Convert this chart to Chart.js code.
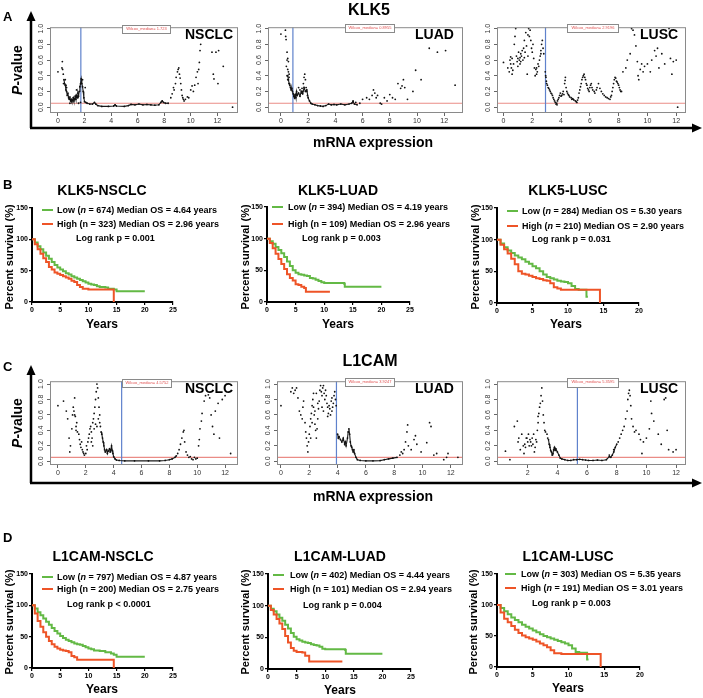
<!DOCTYPE html>
<html><head><meta charset="utf-8">
<script src="https://cdn.jsdelivr.net/npm/chart.js@4.4.1/dist/chart.umd.min.js"></script>
<style>
body{margin:0;width:703px;height:698px;position:relative;background:#fff;overflow:hidden;font-family:'Liberation Sans',Arial,sans-serif;}
.t{position:absolute;white-space:nowrap;font-weight:bold;color:#000;line-height:1;z-index:3;}
canvas{position:absolute;z-index:1;}
.leg{position:absolute;height:2px;z-index:3;}
.wbox{position:absolute;border:1px solid #8a8a8a;background:#fff;z-index:3;color:#e05050;font-size:4px;line-height:6px;text-align:center;white-space:nowrap;overflow:hidden;}
svg{position:absolute;left:0;top:0;z-index:2;}
</style></head><body>
<svg width="703" height="698">
<line x1="31" y1="128" x2="31" y2="19" stroke="#000" stroke-width="2.5"/>
<polygon points="31,11 26.5,21 35.5,21" fill="#000"/>
<line x1="30" y1="128" x2="694" y2="128" stroke="#000" stroke-width="2.5"/>
<polygon points="702,128 692,123.5 692,132.5" fill="#000"/>
<line x1="31" y1="483" x2="31" y2="373" stroke="#000" stroke-width="2.5"/>
<polygon points="31,365 26.5,375 35.5,375" fill="#000"/>
<line x1="30" y1="483" x2="694" y2="483" stroke="#000" stroke-width="2.5"/>
<polygon points="702,483 692,478.5 692,487.5" fill="#000"/>
</svg>
<script>
// ================= DATA =================
const P_CUT = 0.05;
const PVAL_TICKS = [0, 0.2, 0.4, 0.6, 0.8, 1.0];
const EXPR_TICKS = [0, 2, 4, 6, 8, 10, 12];
const EXPR_TICKS_C3 = [2, 4, 6, 8, 10, 12];
const KM_Y_TICKS = [0, 50, 100, 150];
const KM_X_TICKS_25 = [0, 5, 10, 15, 20, 25];
const KM_X_TICKS_20 = [0, 5, 10, 15, 20];

// --- KLK5 cutoff scans (mRNA expression, P-value) ---
const klk5NsclcCut = 1.723;
const klk5NsclcTrace = [[0.45,0.35],[0.5,0.3],[0.55,0.28],[0.6,0.22],[0.65,0.2],[0.7,0.15],[0.75,0.18],[0.8,0.12],[0.85,0.1],[0.9,0.13],[0.95,0.08],[1.0,0.1],[1.05,0.07],[1.1,0.09],[1.15,0.12],[1.2,0.08],[1.25,0.1],[1.3,0.14],[1.35,0.1],[1.4,0.15],[1.45,0.12],[1.5,0.18],[1.55,0.14],[1.6,0.2],[1.65,0.26],[1.7,0.3],[1.75,0.36],[1.8,0.3],[1.85,0.26],[1.9,0.2],[1.95,0.12],[2.0,0.07],[2.1,0.06],[2.2,0.05],[2.4,0.04],[2.6,0.04],[2.75,0.06],[2.85,0.04],[3.0,0.02],[3.3,0.01],[3.8,0.01],[4.2,0.015],[4.3,0.03],[4.4,0.015],[5.0,0.01],[5.3,0.02],[5.5,0.035],[5.8,0.03],[6.1,0.04],[6.4,0.03],[6.7,0.035],[7.0,0.03],[7.3,0.025],[7.6,0.03],[7.75,0.06],[7.85,0.08],[7.95,0.06],[8.1,0.05],[8.3,0.05]];
const klk5NsclcPts = [[0,0.45],[0.3,0.5],[0.33,0.58],[0.35,0.48],[0.4,0.42],[0.42,0.3],[0.55,0.35],[0.6,0.28],[0.65,0.25],[0.9,0.05],[1.4,0.22],[1.55,0.05],[1.7,0.06],[1.85,0.35],[2.05,0.25],[8.5,0.12],[8.6,0.17],[8.7,0.25],[8.75,0.22],[8.85,0.3],[8.9,0.38],[9.0,0.45],[9.05,0.48],[9.1,0.5],[9.15,0.42],[9.2,0.37],[9.25,0.3],[9.3,0.22],[9.35,0.15],[9.4,0.12],[9.45,0.1],[9.5,0.08],[9.6,0.1],[9.75,0.13],[9.85,0.12],[10.0,0.22],[10.1,0.27],[10.2,0.2],[10.3,0.28],[10.4,0.38],[10.5,0.45],[10.55,0.3],[10.6,0.48],[10.65,0.57],[10.7,0.72],[10.75,0.8],[10.8,0.98],[11.6,0.7],[11.7,0.42],[11.75,0.36],[11.9,0.7],[12.05,0.3],[12.1,0.72],[12.45,0.52],[13.15,0.0]];

const klk5LuadCut = 0.88;
const klk5LuadTrace = [[0.5,0.4],[0.55,0.35],[0.6,0.3],[0.65,0.28],[0.7,0.25],[0.75,0.22],[0.8,0.24],[0.85,0.2],[0.9,0.17],[0.95,0.14],[1.0,0.12],[1.05,0.16],[1.1,0.12],[1.15,0.2],[1.2,0.15],[1.3,0.18],[1.4,0.14],[1.5,0.2],[1.6,0.17],[1.7,0.25],[1.8,0.2],[1.9,0.22],[2.0,0.12],[2.1,0.08],[2.2,0.05],[2.3,0.04],[2.5,0.03],[2.7,0.02],[2.9,0.015],[3.1,0.01],[3.3,0.02],[3.5,0.04],[3.7,0.03],[3.9,0.035],[4.1,0.03],[4.4,0.04],[4.7,0.03],[5.0,0.04],[5.2,0.05],[5.3,0.07],[5.4,0.04],[5.6,0.03]];
const klk5LuadPts = [[0.0,0.93],[0.33,0.98],[0.35,0.9],[0.38,0.86],[0.45,0.7],[0.5,0.62],[0.45,0.6],[0.55,0.58],[0.4,0.52],[0.5,0.48],[0.55,0.45],[0.6,0.42],[0.45,0.4],[0.6,0.38],[0.5,0.35],[0.62,0.3],[1.3,0.25],[1.4,0.22],[1.5,0.18],[1.55,0.24],[1.6,0.2],[1.65,0.3],[1.7,0.38],[1.75,0.42],[1.8,0.35],[1.85,0.25],[1.9,0.2],[1.95,0.15],[5.3,0.08],[5.5,0.06],[5.8,0.05],[6.0,0.1],[6.3,0.12],[6.5,0.1],[6.7,0.15],[6.8,0.22],[6.9,0.18],[7.0,0.12],[7.1,0.15],[7.3,0.05],[7.4,0.04],[7.6,0.12],[7.8,0.08],[8.0,0.16],[8.2,0.12],[8.4,0.1],[8.6,0.3],[8.8,0.24],[8.9,0.27],[9.0,0.35],[9.1,0.25],[9.3,0.1],[9.7,0.2],[9.9,0.47],[10.3,0.35],[10.9,0.75],[11.5,0.7],[12.1,0.72],[12.8,0.28]];

const klk5LuscCut = 2.92;
const klk5LuscTrace = [];
const klk5LuscPts = [[0,0.57],[0.3,0.5],[0.4,0.45],[0.45,0.6],[0.5,0.55],[0.55,0.5],[0.6,0.62],[0.65,0.47],[0.7,0.55],[0.75,0.8],[0.8,0.9],[0.85,1.0],[0.9,0.65],[0.95,0.58],[1.0,0.62],[1.05,0.7],[1.1,0.6],[1.15,0.55],[1.2,0.68],[1.25,0.65],[1.3,0.72],[1.35,0.6],[1.4,0.75],[1.45,0.85],[1.5,0.7],[1.55,0.95],[1.6,0.78],[1.65,0.42],[1.7,0.65],[1.75,1.0],[1.8,0.9],[1.85,0.98],[1.9,0.85],[1.95,0.75],[2.0,0.7],[2.05,0.8],[2.1,0.62],[2.15,0.5],[2.2,0.4],[2.25,0.48],[2.3,0.5],[2.35,0.45],[2.4,0.55],[2.45,0.52],[2.5,0.6],[2.55,0.65],[2.6,0.72],[2.65,0.8],[2.7,0.85],[2.75,0.75],[2.8,0.68],[1.2,0.58],[1.0,0.52],[0.6,0.42],[1.45,0.63],[1.15,0.63],[0.5,0.64],[1.7,0.92],[2.3,0.42],[2.6,0.68],
 [2.9,0.45],[2.93,0.4],[2.95,0.38],[2.98,0.33],[3.0,0.3],[3.05,0.28],[3.1,0.25],[3.15,0.24],[3.2,0.22],[3.25,0.2],[3.3,0.18],[3.35,0.17],[3.4,0.15],[3.45,0.12],[3.5,0.1],[3.55,0.08],[3.6,0.06],[3.65,0.04],[3.7,0.05],[3.72,0.03],[3.75,0.08],[3.8,0.1],[3.85,0.12],[3.9,0.15],[3.95,0.18],[4.0,0.14],[4.05,0.15],[4.1,0.17],[4.15,0.2],[4.2,0.16],[4.25,0.3],[4.28,0.34],[4.3,0.38],[4.35,0.25],[4.4,0.2],[4.45,0.18],[4.5,0.16],[4.55,0.15],[4.6,0.13],[4.7,0.12],[4.75,0.1],[4.8,0.11],[4.85,0.1],[4.9,0.09],[5.0,0.08],[5.05,0.07],[5.1,0.06],[5.15,0.09],[5.2,0.12],[5.25,0.18],[5.3,0.22],[5.35,0.26],[5.4,0.3],[5.45,0.35],[5.5,0.38],[5.55,0.4],[5.6,0.42],[5.65,0.38],[5.7,0.35],[5.75,0.3],[5.8,0.28],[5.85,0.24],[5.9,0.22],[5.95,0.2],[6.0,0.25],[6.05,0.28],[6.1,0.3],[6.15,0.25],[6.2,0.22],[6.3,0.2],[6.35,0.18],[6.45,0.22],[6.5,0.25],[6.6,0.3],[6.7,0.24],[6.8,0.2],[6.9,0.17],[7.0,0.15],[7.1,0.13],[7.2,0.12],[7.3,0.11],[7.4,0.1],[7.45,0.13],[7.5,0.15],[7.55,0.2],[7.6,0.25],[7.65,0.3],[7.7,0.35],[7.75,0.38],[7.8,0.37],[7.85,0.33],[7.9,0.32],[7.95,0.3],[8.0,0.28],[8.05,0.25],[8.1,0.22],[8.15,0.2],[8.2,0.2],
 [8.3,0.45],[8.5,0.5],[8.6,0.6],[8.8,0.68],[8.9,1.0],[9.0,0.98],[9.1,0.92],[9.2,0.78],[9.3,0.58],[9.35,0.4],[9.4,0.35],[9.5,0.48],[9.6,0.55],[9.7,0.45],[9.8,0.52],[10.0,0.55],[10.2,0.45],[10.3,0.6],[10.5,0.72],[10.6,0.65],[10.7,0.75],[10.8,0.5],[11.0,0.68],[11.2,0.55],[11.5,1.0],[11.6,0.62],[11.7,0.42],[11.8,0.58],[12.0,0.6],[12.1,0.0]];

// --- L1CAM cutoff scans ---
const l1camNsclcCut = 4.575;
const l1camNsclcTrace = [[3.1,0.38],[3.15,0.35],[3.2,0.3],[3.25,0.25],[3.3,0.2],[3.35,0.15],[3.4,0.12],[3.5,0.15],[3.55,0.1],[3.6,0.13],[3.7,0.16],[3.75,0.12],[3.8,0.15],[3.85,0.2],[3.9,0.14],[3.95,0.1],[4.0,0.06],[4.1,0.03],[4.2,0.015],[4.4,0.01],[4.8,0.005],[5.5,0.005],[6.5,0.005],[7.3,0.005],[7.7,0.01],[8.0,0.02],[8.2,0.03],[8.4,0.05],[8.5,0.07]];
const l1camNsclcPts = [[0,0.72],[0.4,0.78],[0.6,0.65],[0.7,0.55],[0.8,0.3],[0.85,0.12],[0.9,0.2],[1.0,0.42],[1.05,0.6],[1.1,0.7],[1.15,0.65],[1.2,0.82],[1.25,0.58],[1.3,0.45],[1.35,0.5],[1.4,0.38],[1.5,0.35],[1.55,0.28],[1.6,0.22],[1.65,0.18],[1.7,0.25],[1.75,0.15],[1.8,0.12],[1.85,0.1],[1.9,0.08],[2.0,0.1],[2.05,0.2],[2.1,0.15],[2.15,0.25],[2.2,0.3],[2.25,0.35],[2.3,0.42],[2.35,0.45],[2.4,0.38],[2.45,0.3],[2.5,0.5],[2.55,0.55],[2.6,0.62],[2.65,0.7],[2.7,0.8],[2.75,0.9],[2.8,1.0],[2.85,0.95],[2.9,0.82],[2.95,0.7],[3.0,0.6],[2.6,0.42],[2.7,0.48],[2.8,0.45],[2.9,0.55],[3.0,0.5],[3.05,0.45],[2.5,0.2],[2.4,0.25],[1.2,0.6],[1.3,0.4],[8.6,0.1],[8.7,0.15],[8.8,0.22],[8.9,0.3],[9.0,0.38],[9.05,0.4],[9.1,0.25],[9.2,0.12],[9.3,0.08],[9.4,0.05],[9.5,0.06],[9.6,0.03],[9.7,0.02],[9.8,0.05],[9.9,0.03],[10.0,0.04],[10.1,0.2],[10.15,0.28],[10.2,0.42],[10.3,0.52],[10.35,0.62],[10.5,0.78],[10.6,0.85],[10.8,0.86],[10.9,0.82],[11.0,0.6],[11.1,0.45],[11.2,0.35],[11.3,0.65],[11.5,0.75],[11.6,0.3],[11.8,0.8],[12.0,0.85],[12.4,0.1]];

const l1camLuadCut = 3.92;
const l1camLuadTrace = [[4.0,0.35],[4.05,0.3],[4.1,0.32],[4.2,0.28],[4.3,0.25],[4.4,0.3],[4.5,0.22],[4.55,0.25],[4.6,0.2],[4.7,0.3],[4.75,0.38],[4.8,0.42],[4.85,0.35],[4.9,0.25],[4.95,0.2],[5.0,0.18],[5.05,0.15],[5.1,0.12],[5.15,0.15],[5.2,0.1],[5.3,0.05],[5.4,0.02],[5.6,0.01],[6.0,0.005],[6.5,0.005],[7.0,0.008],[7.3,0.02],[7.6,0.03],[7.9,0.04],[8.2,0.05]];
const l1camLuadPts = [[0,0.72],[0.7,0.9],[0.8,0.95],[0.9,0.88],[1.0,0.92],[1.1,0.95],[1.2,0.82],[1.3,0.65],[1.4,0.6],[1.5,0.55],[1.55,0.7],[1.6,0.78],[1.7,0.5],[1.75,0.38],[1.8,0.3],[1.85,0.2],[1.9,0.12],[1.95,0.25],[2.0,0.35],[2.05,0.45],[2.1,0.55],[2.15,0.62],[2.2,0.72],[2.25,0.8],[2.3,0.88],[2.35,0.6],[2.4,0.48],[2.45,0.4],[2.5,0.3],[2.55,0.42],[2.6,0.55],[2.65,0.68],[2.7,0.78],[2.75,0.92],[2.8,0.98],[2.85,0.9],[2.9,0.85],[2.95,0.95],[3.0,0.98],[3.05,0.88],[3.1,0.8],[3.15,0.92],[3.2,0.85],[3.25,0.75],[3.3,0.7],[3.35,0.62],[3.4,0.72],[3.45,0.68],[3.5,0.6],[3.55,0.78],[3.6,0.82],[3.65,0.7],[3.7,0.75],[3.75,0.85],[3.8,0.9],[3.85,0.8],[3.9,0.72],[2.2,0.5],[2.4,0.65],[2.6,0.75],[3.0,0.65],[3.3,0.58],[2.5,0.88],[2.1,0.3],[2.3,0.7],[2.9,0.7],[3.6,0.65],[8.4,0.08],[8.5,0.12],[8.6,0.1],[8.7,0.15],[8.8,0.25],[8.9,0.38],[8.95,0.47],[9.0,0.2],[9.2,0.15],[9.4,0.28],[9.5,0.33],[9.6,0.22],[9.9,0.12],[10.3,0.24],[10.5,0.5],[10.6,0.45],[10.8,0.08],[11.0,0.1],[11.5,0.02],[11.7,0.05],[11.8,0.1],[12.5,0.05]];

const l1camLuscCut = 5.35;
const l1camLuscTrace = [[3.4,0.28],[3.45,0.22],[3.5,0.18],[3.55,0.14],[3.6,0.12],[3.65,0.08],[3.7,0.1],[3.75,0.15],[3.8,0.18],[3.85,0.14],[3.9,0.16],[4.0,0.12],[4.1,0.08],[4.2,0.04],[4.3,0.03],[4.5,0.02],[4.7,0.01],[4.9,0.01],[5.1,0.02],[5.3,0.02],[5.5,0.025],[5.7,0.02],[5.9,0.015],[6.1,0.01],[6.4,0.01],[6.7,0.015],[7.0,0.01],[7.3,0.02],[7.5,0.06],[7.6,0.05],[7.7,0.08],[7.8,0.12],[7.9,0.18],[8.0,0.22]];
const l1camLuscPts = [[0.5,0.13],[0.8,0.02],[1.1,0.45],[1.3,0.52],[1.35,0.25],[1.4,0.3],[1.5,0.15],[1.6,0.35],[1.7,0.2],[1.75,0.1],[1.8,0.22],[1.85,0.18],[1.9,0.3],[2.0,0.25],[2.05,0.35],[2.1,0.2],[2.15,0.28],[2.2,0.25],[2.3,0.3],[2.35,0.22],[2.4,0.35],[2.5,0.18],[2.55,0.28],[2.6,0.25],[2.65,0.4],[2.7,0.5],[2.75,0.62],[2.8,0.7],[2.85,0.75],[2.9,0.85],[2.95,0.95],[3.0,0.78],[3.05,0.6],[3.1,0.5],[3.15,0.4],[3.2,0.38],[3.3,0.35],[3.35,0.3],[2.45,0.12],[1.95,0.3],[2.25,0.2],[2.7,0.58],[7.5,0.08],[7.8,0.15],[8.1,0.25],[8.2,0.3],[8.3,0.35],[8.4,0.4],[8.5,0.45],[8.6,0.55],[8.7,0.65],[8.75,0.8],[8.8,0.88],[8.85,0.92],[8.9,0.85],[8.95,0.72],[9.0,0.55],[9.1,0.45],[9.2,0.38],[9.3,0.4],[9.5,0.35],[9.6,0.28],[9.7,0.1],[9.8,0.25],[10.0,0.3],[10.2,0.42],[10.3,0.78],[10.35,0.62],[10.5,0.52],[10.8,0.35],[11.0,0.22],[11.2,0.8],[11.3,0.82],[11.4,0.4],[11.5,0.15],[11.8,0.12],[12.0,0.15]];

// --- Kaplan-Meier curves [years, percent survival] ---
const klk5NsclcLow = [[0,100],[0.5,95],[1,89],[1.5,84],[2,79],[2.5,74],[3,69],[3.5,64],[4,59],[4.5,55],[5,52],[5.5,49],[6,46],[6.5,44],[7,41],[7.5,39],[8,37],[8.5,35],[9,33],[9.5,31],[10,29],[10.5,28],[11,27],[11.5,25],[12,24],[12.5,24],[13,23],[13.5,21],[14,21],[14.5,20],[15,17],[17,17],[20,17]];
const klk5NsclcHigh = [[0,100],[0.5,92],[1,84],[1.5,77],[2,70],[2.5,64],[3,56],[3.5,52],[4,47],[4.5,45],[5,43],[5.5,41],[6,39],[6.5,37],[7,34],[7.5,32],[8,27],[8.5,24],[9,21],[10,20],[12,20],[14.5,20],[14.5,0]];
const klk5LuadLow = [[0,100],[0.5,96],[1,92],[1.5,87],[2,82],[2.5,77],[3,71],[3.5,64],[4,57],[4.5,50],[5,46],[5.5,44],[6,43],[6.5,42],[7,41],[7.5,38],[8,37],[8.5,35],[9,33],[9.5,31],[10,30],[12,30],[13.5,29],[13.6,24],[17,24],[20,24]];
const klk5LuadHigh = [[0,100],[0.5,93],[1,85],[1.5,76],[2,68],[2.5,60],[3,52],[3.5,44],[4,38],[4.5,34],[5,28],[5.5,27],[6,24],[6.5,22],[6.8,16],[9,16],[11,16]];
const klk5LuscLow = [[0,100],[0.5,94],[1,88],[1.5,83],[2,79],[2.5,75],[3,72],[3.5,69],[4,65],[4.5,62],[5,58],[5.5,55],[6,50],[6.5,45],[7,41],[7.5,39],[8,37],[8.5,35],[9,34],[9.5,33],[10,31],[10.5,27],[11,22],[11.5,21],[12.5,21],[12.6,10],[12.8,10]];
const klk5LuscHigh = [[0,100],[0.5,92],[1,85],[1.5,78],[2,70],[2.5,61],[3,50],[3.5,46],[4,45],[4.5,43],[5,41],[5.5,39],[6,38],[6.5,36],[7,35],[7.5,31],[8,25],[8.5,23],[9,21],[12,21],[14.5,21],[14.5,0]];
const l1camNsclcLow = [[0,100],[0.5,95],[1,89],[1.5,84],[2,79],[2.5,74],[3,69],[3.5,64],[4,59],[4.5,55],[5,51],[5.5,48],[6,45],[6.5,43],[7,41],[7.5,39],[8,38],[8.5,37],[9,35],[9.5,33],[10,31],[10.5,30],[11,28],[12,27],[13,25],[14,23],[14.5,21],[15,18],[17,18],[20,18]];
const l1camNsclcHigh = [[0,100],[0.5,87],[1,75],[1.5,66],[2,57],[2.5,50],[3,43],[3.5,38],[4,34],[4.5,31],[5,29],[5.5,28],[6,27],[6.5,25],[7,19],[7.5,17],[8,13],[10,13],[14.5,13],[14.5,0]];
const l1camLuadLow = [[0,100],[0.5,95],[1,91],[1.5,86],[2,81],[2.5,76],[3,70],[3.5,64],[4,57],[4.5,51],[5,47],[5.5,45],[6,43],[6.5,42],[7,41],[7.5,39],[8,38],[8.5,37],[9,35],[9.5,32],[10,31],[12,31],[13.5,30],[13.6,24],[18,24],[20,24]];
const l1camLuadHigh = [[0,100],[0.5,93],[1,86],[1.5,79],[2,72],[2.5,63],[3,52],[3.5,42],[4,33],[4.5,29],[5,27],[6,26],[6.5,21],[7,21],[7.2,12],[10,12],[13,12]];
const l1camLuscLow = [[0,100],[0.5,95],[1,90],[1.5,85],[2,80],[2.5,76],[3,72],[3.5,68],[4,65],[4.5,62],[5,59],[5.5,56],[6,53],[6.5,50],[7,48],[7.5,46],[8,44],[8.5,42],[9,40],[9.5,38],[10,35],[10.5,30],[11,24],[11.5,23],[12.5,23],[12.6,12],[12.8,12]];
const l1camLuscHigh = [[0,100],[0.5,88],[1,78],[1.5,72],[2,66],[2.5,60],[3,55],[3.5,51],[4,48],[4.5,46],[5,44],[5.5,41],[6,38],[6.5,35],[7,32],[7.5,27],[8,22],[9,21],[12,21],[14.5,21],[14.5,0]];

// --- legend / label texts ---
const kmTitles = ['KLK5-NSCLC','KLK5-LUAD','KLK5-LUSC','L1CAM-NSCLC','L1CAM-LUAD','L1CAM-LUSC'];
const kmLowText = ['Low (<i>n</i> = 674) Median OS = 4.64 years','Low (<i>n</i> = 394) Median OS = 4.19 years','Low (<i>n</i> = 284) Median OS = 5.30 years','Low (<i>n</i> = 797) Median OS = 4.87 years','Low (<i>n</i> = 402) Median OS = 4.44 years','Low (<i>n</i> = 303) Median OS = 5.35 years'];
const kmHighText = ['High (n = 323) Median OS = 2.96 years','High (n = 109) Median OS = 2.96 years','High (<i>n</i> = 210) Median OS = 2.90 years','High (n = 200) Median OS = 2.75 years','High (n = 101) Median OS = 2.94 years','High (<i>n</i> = 191) Median OS = 3.01 years'];
const kmLogRank = ['Log rank p = 0.001','Log rank p = 0.003','Log rank p = 0.031','Log rank p &lt; 0.0001','Log rank p = 0.004','Log rank p = 0.003'];
const scanLabels = ['NSCLC','LUAD','LUSC','NSCLC','LUAD','LUSC'];
const wilcoxText = ['Wilcox_median= 1.723','Wilcox_median= 0.8955','Wilcox_median= 2.9196','Wilcox_median= 4.5752','Wilcox_median= 3.9247','Wilcox_median= 5.3595'];

// ================= DRAWING =================
const GREEN = '#63b945', RED = '#ee5427';
const FONT = "'Liberation Sans', Arial, sans-serif";
Chart.defaults.font.family = FONT;

function txt(html, x, y, size, o = {}) {
  const d = document.createElement('div');
  d.className = 't'; d.innerHTML = html;
  d.style.fontSize = size + 'px'; d.style.left = x + 'px'; d.style.top = y + 'px';
  let tr = o.align === 'left' ? 'translate(0,-50%)' : 'translate(-50%,-50%)';
  if (o.rot) tr += ' rotate(-90deg)';
  d.style.transform = tr;
  if (o.weight) d.style.fontWeight = o.weight;
  document.body.appendChild(d);
}
function makeCanvas(L, T, R, B, padL, padT, padR, padB) {
  const cv = document.createElement('canvas');
  const w = Math.round(R - L + padL + padR), h = Math.round(B - T + padT + padB);
  cv.width = w; cv.height = h;
  cv.style.left = (L - padL) + 'px'; cv.style.top = (T - padT) + 'px';
  cv.style.width = w + 'px'; cv.style.height = h + 'px';
  document.body.appendChild(cv);
  return cv;
}

const scanPlugin = {
  id: 'scanBox',
  afterDraw(chart) {
    const {ctx, chartArea: a, scales: {y}} = chart;
    ctx.save();
    ctx.strokeStyle = '#8a8a8a'; ctx.lineWidth = 1;
    ctx.strokeRect(a.left + 0.5, a.top + 0.5, a.right - a.left - 1, a.bottom - a.top - 1);
    ctx.fillStyle = '#333'; ctx.font = '7px ' + FONT;
    ctx.textAlign = 'center'; ctx.textBaseline = 'middle';
    for (const v of PVAL_TICKS) {
      const py = y.getPixelForValue(v);
      ctx.save(); ctx.translate(a.left - 9, py); ctx.rotate(-Math.PI / 2);
      ctx.fillText(v.toFixed(1), 0, 0); ctx.restore();
    }
    ctx.restore();
  }
};

function scanPanel(c) {
  const padL = 18, padT = 2, padR = 2, padB = 16;
  const cv = makeCanvas(c.L, c.T, c.R, c.B, padL, padT, padR, padB);
  new Chart(cv, {
    type: 'scatter',
    data: { datasets: [
      { data: c.pts, pointRadius: 0.9, pointBorderWidth: 0, pointBackgroundColor: '#111' },
      { data: c.trace, showLine: true, borderColor: '#1a1a1a', borderWidth: 1.1, pointRadius: 0.9, pointBorderWidth: 0, pointBackgroundColor: '#111' },
      { data: [[c.cut, c.ymin], [c.cut, c.ymax]], showLine: true, borderColor: '#5f82cc', borderWidth: 1.2, pointRadius: 0 },
      { data: [[c.xmin, P_CUT], [c.xmax, P_CUT]], showLine: true, borderColor: '#ea8c86', borderWidth: 1.1, pointRadius: 0 }
    ]},
    options: {
      animation: false, responsive: false, devicePixelRatio: 1,
      layout: { padding: { left: 0, top: padT, right: padR, bottom: 0 } },
      plugins: { legend: { display: false }, tooltip: { enabled: false } },
      scales: {
        x: { type: 'linear', min: c.xmin, max: c.xmax,
             afterBuildTicks: s => { s.ticks = c.xticks.map(v => ({ value: v })); },
             afterFit: s => { s.height = padB; },
             grid: { drawOnChartArea: false, tickLength: 3, color: '#666' },
             border: { display: false },
             ticks: { font: { size: 7 }, color: '#333', padding: 1, maxRotation: 0, autoSkip: false } },
        y: { min: c.ymin, max: c.ymax,
             afterBuildTicks: s => { s.ticks = PVAL_TICKS.map(v => ({ value: v })); },
             afterFit: s => { s.width = padL; },
             grid: { drawOnChartArea: false, tickLength: 3, color: '#666' },
             border: { display: false },
             ticks: { color: 'rgba(0,0,0,0)', font: { size: 7 }, padding: 1 } }
      }
    },
    plugins: [scanPlugin]
  });
  txt(c.label, c.labelX, c.labelY, 14, { align: 'left' });
  const wb = document.createElement('div');
  wb.className = 'wbox'; wb.textContent = c.wtext;
  wb.style.left = c.wb[0] + 'px'; wb.style.top = c.wb[1] + 'px';
  wb.style.width = c.wb[2] + 'px'; wb.style.height = c.wb[3] + 'px';
  document.body.appendChild(wb);
}

function kmPanel(c) {
  const padL = 24, padT = 8, padR = 8, padB = 14;
  const cv = makeCanvas(c.L, c.T, c.R, c.B, padL, padT, padR, padB);
  new Chart(cv, {
    type: 'scatter',
    data: { datasets: [
      { data: c.high, showLine: true, stepped: true, borderColor: RED, borderWidth: 2, pointRadius: 0 },
      { data: c.low, showLine: true, stepped: true, borderColor: GREEN, borderWidth: 2, pointRadius: 0 }
    ]},
    options: {
      animation: false, responsive: false, devicePixelRatio: 1,
      layout: { padding: { left: 0, top: padT, right: padR, bottom: 0 } },
      plugins: { legend: { display: false }, tooltip: { enabled: false } },
      scales: {
        x: { type: 'linear', min: 0, max: c.xmax,
             afterBuildTicks: s => { s.ticks = c.xticks.map(v => ({ value: v })); },
             afterFit: s => { s.height = padB; },
             grid: { drawOnChartArea: false, tickLength: 3, color: '#000', lineWidth: 1.2 },
             border: { color: '#000', width: 2 },
             ticks: { font: { size: 7, weight: 'bold' }, color: '#000', padding: 1, maxRotation: 0, autoSkip: false } },
        y: { min: 0, max: 150,
             afterBuildTicks: s => { s.ticks = KM_Y_TICKS.map(v => ({ value: v })); },
             afterFit: s => { s.width = padL; },
             grid: { drawOnChartArea: false, tickLength: 3, color: '#000', lineWidth: 1.2 },
             border: { color: '#000', width: 2 },
             ticks: { font: { size: 7, weight: 'bold' }, color: '#000', padding: 1 } }
      }
    }
  });
  txt(c.title, c.titleX, c.titleY, 14);
  txt('Percent survival (%)', c.ylabX, c.ylabY, 11, { rot: true });
  txt('Years', c.yearsX, c.yearsY, 12);
  const lg = (x, y, col) => { const d = document.createElement('div'); d.className = 'leg';
    d.style.left = x + 'px'; d.style.top = (y - 1) + 'px'; d.style.width = '11px'; d.style.background = col; document.body.appendChild(d); };
  lg(c.lgX, c.yLow, GREEN); lg(c.lgX, c.yHigh, RED);
  txt(c.lowText, c.txX, c.yLow, 9, { align: 'left' });
  txt(c.highText, c.txX, c.yHigh, 9, { align: 'left' });
  txt(c.lrText, c.lrX, c.lrY, 9, { align: 'left' });
}

// ---- headers ----
txt('A', 3, 16, 13, { align: 'left' });
txt('KLK5', 369, 10, 16);
txt('<i>P</i>-value', 17, 70, 14, { rot: true });
txt('mRNA expression', 373, 142, 14);
txt('B', 3, 184, 13, { align: 'left' });
txt('C', 3, 366, 13, { align: 'left' });
txt('L1CAM', 370, 361, 16);
txt('<i>P</i>-value', 17, 423, 14, { rot: true });
txt('mRNA expression', 373, 496, 14);
txt('D', 3, 537, 13, { align: 'left' });

// ---- scan panels ----
const AY = { T: 24, B: 113, ymin: -0.074, ymax: 1.018 };
const CY = { T: 378, B: 465, ymin: -0.049, ymax: 1.037 };
scanPanel({ L: 50, R: 240, ...AY, xmin: -0.6, xmax: 13.56, xticks: EXPR_TICKS, trace: klk5NsclcTrace, pts: klk5NsclcPts, cut: klk5NsclcCut, label: scanLabels[0], labelX: 185, labelY: 34, wtext: wilcoxText[0], wb: [122, 25, 47, 7] });
scanPanel({ L: 268, R: 465, ...AY, xmin: -0.95, xmax: 13.38, xticks: EXPR_TICKS, trace: klk5LuadTrace, pts: klk5LuadPts, cut: klk5LuadCut, label: scanLabels[1], labelX: 415, labelY: 34, wtext: wilcoxText[1], wb: [345, 24, 48, 7] });
scanPanel({ L: 497, R: 688, ...AY, xmin: -0.45, xmax: 12.68, xticks: EXPR_TICKS, trace: klk5LuscTrace, pts: klk5LuscPts, cut: klk5LuscCut, label: scanLabels[2], labelX: 640, labelY: 34, wtext: wilcoxText[2], wb: [567, 24, 50, 7] });
scanPanel({ L: 50, R: 240, ...CY, xmin: -0.57, xmax: 12.93, xticks: EXPR_TICKS, trace: l1camNsclcTrace, pts: l1camNsclcPts, cut: l1camNsclcCut, label: scanLabels[3], labelX: 185, labelY: 388, wtext: wilcoxText[3], wb: [122, 379, 48, 7] });
scanPanel({ L: 277, R: 465, ...CY, xmin: -0.28, xmax: 12.86, xticks: EXPR_TICKS, trace: l1camLuadTrace, pts: l1camLuadPts, cut: l1camLuadCut, label: scanLabels[4], labelX: 415, labelY: 388, wtext: wilcoxText[4], wb: [345, 378, 48, 7] });
scanPanel({ L: 497, R: 688, ...CY, xmin: -0.07, xmax: 12.67, xticks: EXPR_TICKS_C3, trace: l1camLuscTrace, pts: l1camLuscPts, cut: l1camLuscCut, label: scanLabels[5], labelX: 640, labelY: 388, wtext: wilcoxText[5], wb: [567, 378, 50, 8] });

// ---- KM panels ----
kmPanel({ L: 32, T: 208, R: 173, B: 302, xmax: 25, xticks: KM_X_TICKS_25, low: klk5NsclcLow, high: klk5NsclcHigh,
  title: kmTitles[0], titleX: 102, titleY: 190, ylabX: 9, ylabY: 257, yearsX: 102, yearsY: 324,
  lgX: 42, txX: 57, yLow: 210, yHigh: 224, lowText: kmLowText[0], highText: kmHighText[0], lrText: kmLogRank[0], lrX: 76, lrY: 238 });
kmPanel({ L: 267, T: 207, R: 410, B: 302, xmax: 25, xticks: KM_X_TICKS_25, low: klk5LuadLow, high: klk5LuadHigh,
  title: kmTitles[1], titleX: 338, titleY: 190, ylabX: 245, ylabY: 257, yearsX: 338, yearsY: 324,
  lgX: 272, txX: 288, yLow: 207, yHigh: 224, lowText: kmLowText[1], highText: kmHighText[1], lrText: kmLogRank[1], lrX: 302, lrY: 238 });
kmPanel({ L: 497, T: 208, R: 639, B: 303, xmax: 20, xticks: KM_X_TICKS_20, low: klk5LuscLow, high: klk5LuscHigh,
  title: kmTitles[2], titleX: 568, titleY: 190, ylabX: 475, ylabY: 257, yearsX: 566, yearsY: 324,
  lgX: 507, txX: 522, yLow: 211, yHigh: 226, lowText: kmLowText[2], highText: kmHighText[2], lrText: kmLogRank[2], lrX: 532, lrY: 239 });
kmPanel({ L: 32, T: 574, R: 173, B: 668, xmax: 25, xticks: KM_X_TICKS_25, low: l1camNsclcLow, high: l1camNsclcHigh,
  title: kmTitles[3], titleX: 103, titleY: 556, ylabX: 9, ylabY: 622, yearsX: 102, yearsY: 689,
  lgX: 42, txX: 57, yLow: 577, yHigh: 589, lowText: kmLowText[3], highText: kmHighText[3], lrText: kmLogRank[3], lrX: 67, lrY: 604 });
kmPanel({ L: 268, T: 574, R: 411, B: 669, xmax: 25, xticks: KM_X_TICKS_25, low: l1camLuadLow, high: l1camLuadHigh,
  title: kmTitles[4], titleX: 340, titleY: 556, ylabX: 245, ylabY: 622, yearsX: 340, yearsY: 690,
  lgX: 273, txX: 290, yLow: 575, yHigh: 589, lowText: kmLowText[4], highText: kmHighText[4], lrText: kmLogRank[4], lrX: 303, lrY: 605 });
kmPanel({ L: 497, T: 574, R: 640, B: 667, xmax: 20, xticks: KM_X_TICKS_20, low: l1camLuscLow, high: l1camLuscHigh,
  title: kmTitles[5], titleX: 568, titleY: 556, ylabX: 473, ylabY: 622, yearsX: 568, yearsY: 688,
  lgX: 505, txX: 521, yLow: 574, yHigh: 588, lowText: kmLowText[5], highText: kmHighText[5], lrText: kmLogRank[5], lrX: 532, lrY: 603 });
</script>
</body></html>
